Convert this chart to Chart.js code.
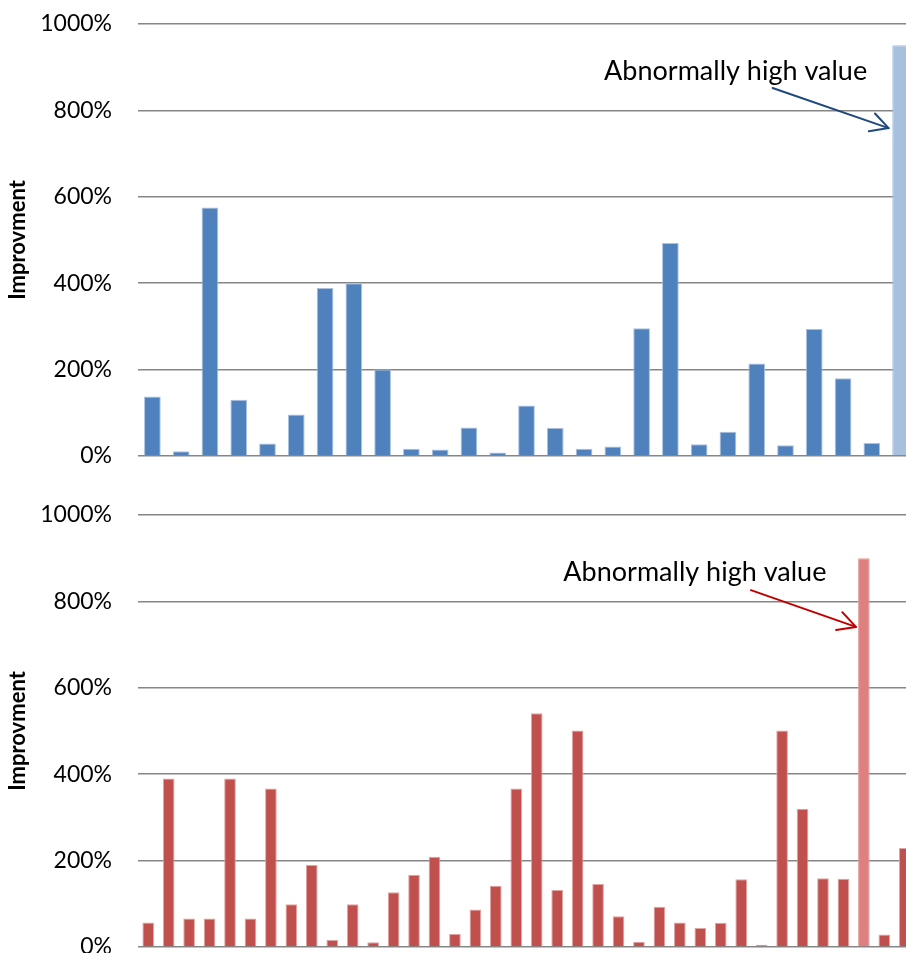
<!DOCTYPE html>
<html>
<head>
<meta charset="utf-8">
<script src="https://cdn.jsdelivr.net/npm/chart.js@4.4.1/dist/chart.umd.min.js"></script>
<style>
  html, body { margin: 0; padding: 0; background: #fff; overflow: hidden; width: 906px; height: 953px; }
  canvas { position: absolute; left: 0; }
  #topChart { top: 0; }
  #bottomChart { top: 490px; }
</style>
</head>
<body>
<canvas id="topChart" width="915" height="480"></canvas>
<canvas id="bottomChart" width="915" height="480"></canvas>
<script>
// ---- Data (percent improvement) ----
const topCategories = ["1","2","3","4","5","6","7","8","9","10","11","12","13","14","15","16","17","18","19","20","21","22","23","24","25","26","27"];
const topValues = [138, 11, 575, 130, 29, 96, 389, 400, 200, 17, 15, 66, 8, 117, 65, 17, 22, 296, 493, 27, 56, 214, 25, 294, 180, 30, 951];

const bottomCategories = ["1","2","3","4","5","6","7","8","9","10","11","12","13","14","15","16","17","18","19","20","21","22","23","24","25","26","27","28","29","30","31","32","33","34","35","36","37","38"];
const bottomValues = [57, 390, 66, 66, 390, 66, 367, 99, 190, 16, 99, 11, 127, 167, 209, 30, 87, 142, 367, 541, 132, 501, 146, 71, 12, 93, 57, 44, 56, 157, 5, 501, 320, 159, 158, 900, 29, 229];

const yTickValues = [0, 200, 400, 600, 800, 1000];
const yAxisTitle = "Improvment";
const calloutText = "Abnormally high value";

// index of the highlighted (abnormal) bar in each series
const topAbnormalIndex = 26;
const bottomAbnormalIndex = 35;

// ---- Callout plugin (text + arrow pointing at abnormal bar) ----
const calloutPlugin = {
  id: 'callout',
  afterDatasetsDraw(chart, args, opts) {
    if (!opts || !opts.text) return;
    const bar = chart.getDatasetMeta(0).data[opts.index];
    const ys = chart.scales.y;
    const ctx = chart.ctx;
    ctx.save();
    ctx.font = opts.font;
    ctx.fillStyle = '#000';
    ctx.textAlign = 'center';
    ctx.textBaseline = 'alphabetic';
    ctx.fillText(opts.text, bar.x + opts.textDx, ys.getPixelForValue(opts.textValue));
    const x0 = bar.x + opts.startDx, y0 = ys.getPixelForValue(opts.startValue);
    const x1 = bar.x + opts.tipDx, y1 = ys.getPixelForValue(opts.tipValue);
    ctx.strokeStyle = opts.color;
    ctx.lineWidth = 2;
    ctx.lineCap = 'round';
    ctx.lineJoin = 'round';
    ctx.beginPath(); ctx.moveTo(x0, y0); ctx.lineTo(x1, y1); ctx.stroke();
    const ang = Math.atan2(y1 - y0, x1 - x0);
    const L = 20, a = 28 * Math.PI / 180;
    ctx.beginPath();
    ctx.moveTo(x1 - L * Math.cos(ang - a), y1 - L * Math.sin(ang - a));
    ctx.lineTo(x1, y1);
    ctx.lineTo(x1 - L * Math.cos(ang + a), y1 - L * Math.sin(ang + a));
    ctx.stroke();
    ctx.restore();
  }
};

function makeChart(id, labels, values, barColor, barEdge, hiColor, hiIndex, barPct, pad, callout) {
  const bg = values.map((v, i) => i === hiIndex ? hiColor : barColor);
  return new Chart(document.getElementById(id), {
    type: 'bar',
    data: {
      labels: labels,
      datasets: [{
        data: values,
        backgroundColor: bg,
        borderColor: barEdge,
        borderWidth: { top: 1, left: 1, right: 1, bottom: 0 },
        categoryPercentage: 1.0,
        barPercentage: barPct
      }]
    },
    options: {
      responsive: false,
      animation: false,
      devicePixelRatio: 1,
      layout: { padding: pad },
      plugins: {
        legend: { display: false },
        tooltip: { enabled: false },
        callout: callout
      },
      scales: {
        x: { display: false },
        y: {
          min: 0, max: 1000,
          afterBuildTicks: s => { s.ticks = yTickValues.map(v => ({ value: v })); },
          afterFit: s => { s.width = 138; s.paddingTop = 0; s.paddingBottom = 0; },
          grid: { color: '#868686', lineWidth: 1.5, drawTicks: false },
          border: { display: false },
          ticks: {
            padding: 26,
            color: '#000',
            font: { family: 'Lato', size: 23 },
            callback: v => v + '%'
          },
          title: {
            display: true,
            text: yAxisTitle,
            color: '#000',
            font: { family: 'Lato', size: 22, weight: 'bold' },
            padding: { top: 5, bottom: 0 }
          }
        }
      }
    },
    plugins: [calloutPlugin]
  });
}

makeChart('topChart', topCategories, topValues, '#4f81bd', '#a9c1df', '#a7c0de', topAbnormalIndex, 0.58,
  { top: 24, bottom: 24, left: 0, right: 0 }, {
  text: calloutText, index: topAbnormalIndex, font: '27px Lato', color: '#1f497d',
  textDx: -165, textValue: 871,
  startDx: -128, startValue: 852,
  tipDx: -12, tipValue: 759
});

makeChart('bottomChart', bottomCategories, bottomValues, '#c0504d', '#e3a3a1', '#e07f7f', bottomAbnormalIndex, 0.57,
  { top: 25, bottom: 23, left: 0, right: 0 }, {
  text: calloutText, index: bottomAbnormalIndex, font: '27px Lato', color: '#c00000',
  textDx: -169, textValue: 847,
  startDx: -113, startValue: 826,
  tipDx: -8, tipValue: 741
});
</script>
</body>
</html>
